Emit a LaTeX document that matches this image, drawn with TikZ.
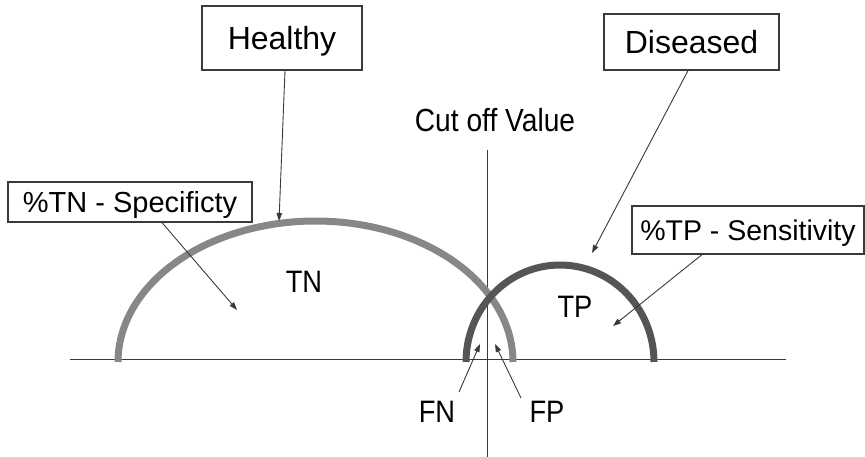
\documentclass[tikz,border=0pt]{standalone}
\usepackage{fontspec}
\setmainfont{Liberation Sans}
\newfontfamily\condfont[FakeStretch=0.88]{Liberation Sans}
\usetikzlibrary{arrows.meta}
\definecolor{healthygray}{HTML}{878787}
\definecolor{diseasegray}{HTML}{555555}
\definecolor{linegray}{HTML}{3A3A3A}
\begin{document}
\begin{tikzpicture}[x=1pt,y=-1pt,
  box/.style={draw=linegray, line width=1.2pt, fill=white, inner sep=0pt, text depth=0pt},
  thinline/.style={draw=linegray, line width=0.9pt},
  arr/.style={thinline, -{Triangle[length=8pt,width=5.5pt]}},
  lbl/.style={inner sep=0pt, text height=22.2pt, text depth=0pt,
              font=\condfont\fontsize{31}{36}\selectfont},
  healthyarc/.style={draw=healthygray, line width=7pt},
  diseasearc/.style={draw=diseasegray, line width=7pt}
]
\useasboundingbox (0,0) rectangle (865,457);
\fill[white] (0,0) rectangle (865,457);

% axis and cut-off line
\coordinate (bl) at (70,359);
\coordinate (br) at (786,359);
\draw[thinline] (bl) -- (br);
\coordinate (ct) at (487,150);
\coordinate (cb) at (487,457);
\draw[thinline] (ct) -- (cb);

% distributions
\draw[healthyarc] plot[domain=180:360, samples=120, smooth]
  ({315.5+197.5*cos(\x)},{362+141*sin(\x)});
\draw[diseasearc] plot[domain=180:360, samples=100, smooth]
  ({560+94*cos(\x)},{362+97*sin(\x)});

% boxes
\node[box, minimum width=160pt, minimum height=64pt, text height=22.9pt,
      font=\fontsize{32}{36}\selectfont] (hbox) at (282,38) {Healthy};
\node[box, minimum width=175pt, minimum height=56pt, text height=22.9pt,
      font=\fontsize{32}{36}\selectfont] (dbox) at (691.5,42) {Diseased};
\node[box, minimum width=244pt, minimum height=40pt, text height=20.8pt,
      font=\fontsize{29}{34}\selectfont] (tnbox) at (130,202) {\%TN - Specificty};
\node[box, minimum width=232pt, minimum height=48pt, text height=20.4pt,
      font=\fontsize{28.5}{34}\selectfont] (tpbox) at (748,230) {\%TP - Sensitivity};

% labels
\node[lbl, text height=22.9pt, font=\condfont\fontsize{32}{36}\selectfont] (cut) at (495,120) {Cut off Value};
\node[lbl] (tn) at (304,281) {TN};
\node[lbl] (tp) at (575,306) {TP};
\node[lbl] (fn) at (437,411) {FN};
\node[lbl] (fp) at (547,411) {FP};

% arrow targets
\coordinate (htip) at (279,221);
\coordinate (dtip) at (592,253);
\coordinate (tntip) at (237,310);
\coordinate (tptip) at (613,326);
\coordinate (fntail) at (459,392);
\coordinate (fntip) at (480,344);
\coordinate (fptail) at (521,398);
\coordinate (fptip) at (495,344);

% arrows
\draw[arr] ([xshift=3pt]hbox.south) -- (htip);
\draw[arr] ([xshift=-3.5pt]dbox.south) -- (dtip);
\draw[arr] ([xshift=32pt]tnbox.south) -- (tntip);
\draw[arr] ([xshift=-46pt]tpbox.south) -- (tptip);
\draw[arr] (fntail) -- (fntip);
\draw[arr] (fptail) -- (fptip);
\end{tikzpicture}
\end{document}
